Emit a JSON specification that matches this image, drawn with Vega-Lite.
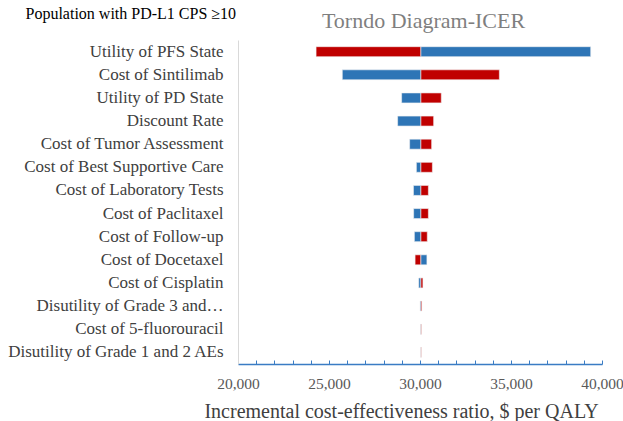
{
  "$schema": "https://vega.github.io/schema/vega-lite/v6.json",
  "width": 364,
  "height": 324,
  "autosize": {"type": "none"},
  "padding": {"left": 238, "top": 40, "right": 21, "bottom": 57},
  "background": "white",
  "data": {
    "values": [
      {"param": "Utility of PFS State", "start": 24290, "end": 30050, "dir": "low"},
      {"param": "Utility of PFS State", "start": 30050, "end": 39380, "dir": "high"},
      {"param": "Cost of Sintilimab", "start": 25730, "end": 30050, "dir": "high"},
      {"param": "Cost of Sintilimab", "start": 30050, "end": 34360, "dir": "low"},
      {"param": "Utility of PD State", "start": 28990, "end": 30050, "dir": "high"},
      {"param": "Utility of PD State", "start": 30050, "end": 31170, "dir": "low"},
      {"param": "Discount Rate", "start": 28770, "end": 30050, "dir": "high"},
      {"param": "Discount Rate", "start": 30050, "end": 30750, "dir": "low"},
      {"param": "Cost of Tumor Assessment", "start": 29430, "end": 30050, "dir": "high"},
      {"param": "Cost of Tumor Assessment", "start": 30050, "end": 30640, "dir": "low"},
      {"param": "Cost of Best Supportive Care", "start": 29800, "end": 30050, "dir": "high"},
      {"param": "Cost of Best Supportive Care", "start": 30050, "end": 30680, "dir": "low"},
      {"param": "Cost of Laboratory Tests", "start": 29640, "end": 30050, "dir": "high"},
      {"param": "Cost of Laboratory Tests", "start": 30050, "end": 30460, "dir": "low"},
      {"param": "Cost of Paclitaxel", "start": 29650, "end": 30050, "dir": "high"},
      {"param": "Cost of Paclitaxel", "start": 30050, "end": 30460, "dir": "low"},
      {"param": "Cost of Follow-up", "start": 29690, "end": 30050, "dir": "high"},
      {"param": "Cost of Follow-up", "start": 30050, "end": 30400, "dir": "low"},
      {"param": "Cost of Docetaxel", "start": 29730, "end": 30050, "dir": "low"},
      {"param": "Cost of Docetaxel", "start": 30050, "end": 30380, "dir": "high"},
      {"param": "Cost of Cisplatin", "start": 29930, "end": 30050, "dir": "high"},
      {"param": "Cost of Cisplatin", "start": 30050, "end": 30160, "dir": "low"},
      {"param": "Disutility of Grade 3 and…", "start": 30000, "end": 30050, "dir": "high"},
      {"param": "Disutility of Grade 3 and…", "start": 30050, "end": 30100, "dir": "low"},
      {"param": "Cost of 5-fluorouracil", "start": 30030, "end": 30050, "dir": "high"},
      {"param": "Cost of 5-fluorouracil", "start": 30050, "end": 30080, "dir": "low"},
      {"param": "Disutility of Grade 1 and 2 AEs", "start": 30040, "end": 30050, "dir": "high"},
      {"param": "Disutility of Grade 1 and 2 AEs", "start": 30050, "end": 30070, "dir": "low"}
    ]
  },
  "encoding": {
    "y": {
      "field": "param",
      "type": "nominal",
      "sort": null,
      "scale": {"paddingInner": 0.57, "paddingOuter": 0.29},
      "axis": {
        "title": "Population with PD-L1 CPS ≥10",
        "titleAngle": 0,
        "titleAlign": "left",
        "titleBaseline": "alphabetic",
        "titleX": -213,
        "titleY": -22,
        "titleFont": "Liberation Serif",
        "titleFontSize": 16,
        "titleFontWeight": "normal",
        "titleColor": "#000000",
        "labelFont": "Liberation Serif",
        "labelFontSize": 17,
        "labelColor": "#404040",
        "labelPadding": 15,
        "labelLimit": 300,
        "ticks": false,
        "domainColor": "#d9d9d9",
        "domainWidth": 1
      }
    }
  },
  "layer": [
    {
      "mark": {"type": "bar", "size": 10, "stroke": "#f2f2f2", "strokeWidth": 0.6},
      "encoding": {
        "x": {
          "field": "start",
          "type": "quantitative",
          "scale": {"domain": [20000, 40000], "nice": false},
          "axis": {
            "title": "Incremental  cost-effectiveness ratio, $ per QALY",
            "titleFont": "Liberation Serif",
            "titleFontSize": 20,
            "titleFontWeight": "normal",
            "titleColor": "#404040",
            "titleAlign": "center",
            "titleBaseline": "alphabetic",
            "titleX": 163,
            "titleY": 53,
            "values": [20000, 21000, 22000, 23000, 24000, 25000, 26000, 27000, 28000, 29000, 30000, 31000, 32000, 33000, 34000, 35000, 36000, 37000, 38000, 39000, 40000],
            "labelExpr": "datum.value % 5000 == 0 ? format(datum.value, ',') : ''",
            "labelFont": "Liberation Serif",
            "labelFontSize": 15.5,
            "labelColor": "#595959",
            "labelPadding": 16,
            "labelFlush": false,
            "labelOverlap": false,
            "grid": false,
            "domainColor": "#3a7cc4",
            "domainWidth": 1.5,
            "tickColor": "#3a7cc4",
            "tickSize": -4,
            "tickWidth": 1
          }
        },
        "x2": {"field": "end"},
        "color": {
          "field": "dir",
          "type": "nominal",
          "scale": {"domain": ["low", "high"], "range": ["#c00000", "#2e75b6"]},
          "legend": null
        }
      }
    },
    {
      "mark": {"type": "bar", "size": 10, "opacity": 0},
      "encoding": {
        "x": {
          "field": "start",
          "type": "quantitative",
          "axis": {
            "orient": "top",
            "title": "Torndo Diagram-ICER",
            "titleFont": "Liberation Serif",
            "titleFontSize": 22,
            "titleFontWeight": "normal",
            "titleColor": "#7f7f7f",
            "titleAlign": "center",
            "titleBaseline": "alphabetic",
            "titleX": 185,
            "titleY": -13,
            "labels": false,
            "ticks": false,
            "domain": false,
            "grid": false
          }
        },
        "x2": {"field": "end"}
      }
    }
  ],
  "resolve": {"axis": {"x": "independent"}},
  "config": {"view": {"stroke": null}}
}
